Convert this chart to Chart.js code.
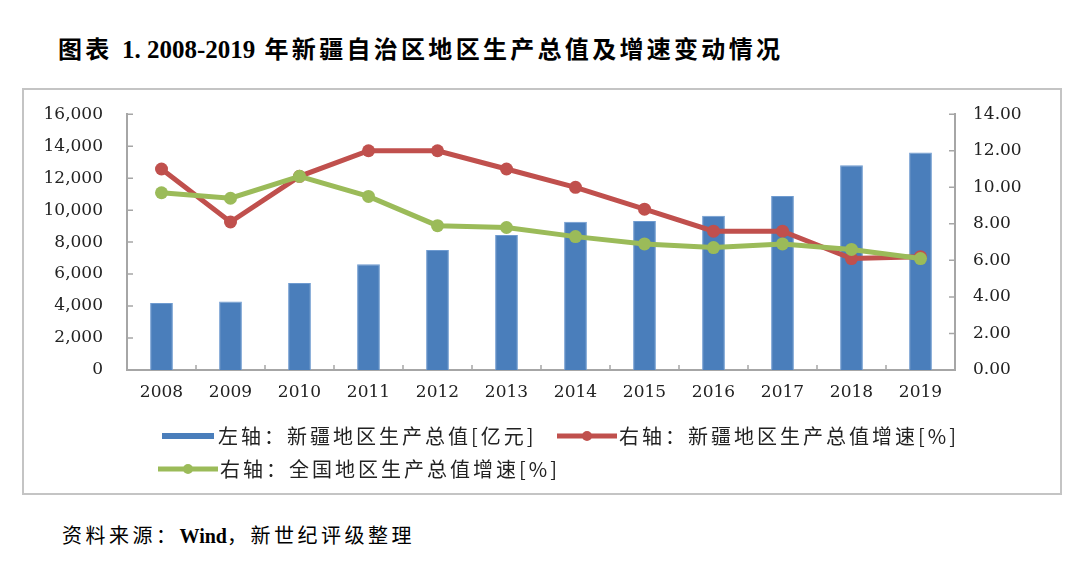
<!DOCTYPE html>
<html>
<head>
<meta charset="utf-8">
<script src="https://cdn.jsdelivr.net/npm/chart.js@4"></script>
<style>
  body { margin: 0; background: #fff; width: 1080px; height: 565px; position: relative; overflow: hidden; }
  #title { position: absolute; left: 58px; top: 30px; font: bold 24px "Liberation Serif", "Noto Sans CJK SC"; letter-spacing: 3.3px; color: #000; white-space: nowrap; }
  #title span { letter-spacing: 0; font-size: 25px; }
  #source { position: absolute; left: 62px; top: 520px; font: 20px "Liberation Serif", "Noto Sans CJK SC"; letter-spacing: 3.5px; color: #000; white-space: nowrap; }
  #source b { letter-spacing: 0; }
  #box { position: absolute; left: 22px; top: 88px; width: 1036px; height: 403px; border: 2px solid #c4c4c4; }
  #chart { position: absolute; left: 0; top: -10px; }
  .leg { position: absolute; display: flex; align-items: center; font: 20px "Noto Sans CJK SC"; letter-spacing: 3px; color: #222; white-space: nowrap; }
  .leg svg { margin-right: 2px; }
</style>
</head>
<body>
<div id="title">图表 <span>1. 2008-2019</span> 年新疆自治区地区生产总值及增速变动情况</div>
<div id="box">
  <canvas id="chart" width="1036" height="413"></canvas>
</div>
<div id="source">资料来源：<b>Wind</b>，新世纪评级整理</div>
<script>
const years = ['2008', '2009', '2010', '2011', '2012', '2013', '2014', '2015', '2016', '2017', '2018', '2019'];
const gdpXinjiang = [4183, 4277, 5437, 6610, 7505, 8443, 9273, 9325, 9650, 10882, 12800, 13597];
const growthXinjiang = [11.0, 8.1, 10.6, 12.0, 12.0, 11.0, 10.0, 8.8, 7.6, 7.6, 6.1, 6.2];
const growthChina = [9.7, 9.4, 10.6, 9.5, 7.9, 7.8, 7.3, 6.9, 6.7, 6.9, 6.6, 6.1];
const legendLabels = ['左轴：新疆地区生产总值[亿元]', '右轴：新疆地区生产总值增速[%]', '右轴：全国地区生产总值增速[%]'];

const BLUE = '#4a7ebb', RED = '#c0504d', GREEN = '#9bbb59', AXIS = '#a6a6a6';

// small tick marks pointing into the plot, like the Excel original
const innerTicks = {
    id: 'innerTicks',
    afterDraw(chart) {
        const ctx = chart.ctx, s = chart.scales, area = chart.chartArea;
        ctx.save();
        ctx.strokeStyle = AXIS;
        ctx.lineWidth = 1.5;
        ctx.beginPath();
        for (let i = 1; i < years.length; i++) {
            const x = (s.x.getPixelForTick(i - 1) + s.x.getPixelForTick(i)) / 2;
            ctx.moveTo(x, area.bottom); ctx.lineTo(x, area.bottom - 5);
        }
        s.y.ticks.forEach(t => {
            const y = s.y.getPixelForValue(t.value);
            ctx.moveTo(area.left, y); ctx.lineTo(area.left + 6, y);
        });
        s.y1.ticks.forEach(t => {
            const y = s.y1.getPixelForValue(t.value);
            ctx.moveTo(area.right, y); ctx.lineTo(area.right - 6, y);
        });
        ctx.stroke();
        ctx.restore();
    }
};

const tickFont = { family: 'DejaVu Serif', size: 17 };

new Chart(document.getElementById('chart'), {
    type: 'bar',
    data: {
        labels: years,
        datasets: [
            {
                type: 'line', label: legendLabels[2], data: growthChina, yAxisID: 'y1', order: 1,
                borderColor: GREEN, backgroundColor: GREEN, borderWidth: 5,
                pointRadius: 6.5, pointBackgroundColor: GREEN, pointBorderWidth: 0, tension: 0
            },
            {
                type: 'line', label: legendLabels[1], data: growthXinjiang, yAxisID: 'y1', order: 2,
                borderColor: RED, backgroundColor: RED, borderWidth: 5,
                pointRadius: 6.5, pointBackgroundColor: RED, pointBorderWidth: 0, tension: 0
            },
            {
                label: legendLabels[0], data: gdpXinjiang, yAxisID: 'y', order: 3,
                backgroundColor: BLUE, borderColor: '#6f9bd0', borderWidth: 1,
                categoryPercentage: 1, barPercentage: 0.33
            }
        ]
    },
    options: {
        responsive: false,
        animation: false,
        devicePixelRatio: 1,
        layout: { padding: { top: 13, left: 0, right: 0, bottom: 0 } },
        plugins: { legend: { display: false }, tooltip: { enabled: false } },
        scales: {
            x: {
                grid: { display: false, drawTicks: false },
                border: { color: AXIS, width: 2 },
                ticks: { font: tickFont, color: '#222', padding: 12, maxRotation: 0 },
                afterFit(scale) { scale.height = 123; }
            },
            y: {
                position: 'left', min: 0, max: 16000,
                grid: { display: false, drawTicks: false },
                border: { color: AXIS, width: 2 },
                ticks: {
                    stepSize: 2000, font: tickFont, color: '#222', padding: 24,
                    callback: v => v.toLocaleString('en-US')
                },
                afterFit(scale) { scale.width = 103; }
            },
            y1: {
                position: 'right', min: 0, max: 14,
                grid: { display: false, drawTicks: false },
                border: { color: AXIS, width: 2 },
                ticks: {
                    stepSize: 2, font: tickFont, color: '#222', padding: 18,
                    callback: v => v.toFixed(2)
                },
                afterFit(scale) { scale.width = 105; }
            }
        }
    },
    plugins: [innerTicks]
});

// legend drawn as html below the plot
function lineIcon(color) {
    return `<svg width="60" height="14"><line x1="0" y1="7" x2="60" y2="7" stroke="${color}" stroke-width="5"/><circle cx="30" cy="7" r="5" fill="${color}"/></svg>`;
}
const legendItems = [
    { left: 162, top: 421, icon: `<svg width="54" height="14"><rect x="0" y="4" width="52" height="6" fill="${BLUE}"/></svg>`, text: legendLabels[0] },
    { left: 557, top: 421, icon: lineIcon(RED), text: legendLabels[1] },
    { left: 158, top: 454, icon: lineIcon(GREEN), text: legendLabels[2] }
];
legendItems.forEach(item => {
    const d = document.createElement('div');
    d.className = 'leg';
    d.style.left = item.left + 'px';
    d.style.top = item.top + 'px';
    d.innerHTML = item.icon + '<span>' + item.text + '</span>';
    document.body.appendChild(d);
});
</script>
</body>
</html>
